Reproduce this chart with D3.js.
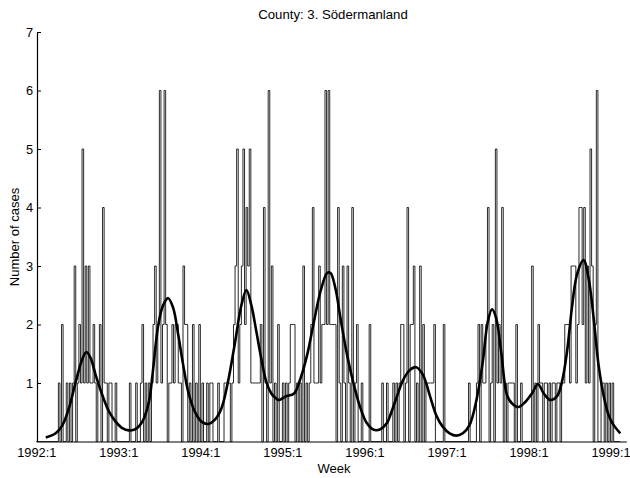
<!DOCTYPE html>
<html>
<head>
<meta charset="utf-8">
<script src="https://cdn.jsdelivr.net/npm/d3@7/dist/d3.min.js"></script>
<style>
  html, body { margin: 0; padding: 0; background: #fff; }
  svg text { font-family: "Liberation Sans", Arial, Helvetica, sans-serif; fill: #000; }
</style>
</head>
<body>
<svg id="chart" width="630" height="478"></svg>
<script>
// Weekly reported cases, Södermanland, from 1992 week 1 onwards
const weeklyCases = [
  0,0,0,0,0,0,
  0,0,0,0,0,0,0,0,1,0, 2,0,0,1,0,1,0,1,3,0, 1,2,1,5,1,3,1,3,1,1,
  2,1,0,1,2,0,4,1,1,0, 1,1,0,0,1,0,0,0,0,0, 0,0,
  0,1,0,0,0,1,0,0,1,2, 0,1,0,1,0,1,2,3,1,2, 6,1,2,6,2,0,1,1,2,1,
  2,2,1,1,0,3,2,2,0,1, 0,2,0,1,0,2,0,1,0,0,1,0,
  1,1,0,0,0,1,0,0,0,1, 1,1,1,0,1,2,3,5,1,2, 3,5,2,4,3,5,1,1,1,1,
  1,1,2,0,4,1,0,6,1,3, 0,1,0,2,0,0,1,0,1,0,1,2,
  2,2,0,1,0,1,0,3,0, 1,0,1,2,4,1,1,1,3,1, 2,2,6,2,6,2,2,2,2,0,
  4,1,0,3,1,0,3,1,0,4, 0,1,2,0,0,1,0,0,0,0,2,0,
  0,0,0,0,0,0,1,0,0,1, 0,0,0,1,0,1,0,1,2,2, 0,1,4,0,2,2,3,0,1,0,
  3,0,2,0,1,1,1,1,1,2, 0,0,0,0,0,2,0,0,0,0,0,0,
  0,0,0,0,0,0,0,0,0, 1,0,0,0,0,1,2,0,2,1, 1,2,4,0,1,2,0,5,1,2,
  1,4,0,1,0,1,1,1,1,0, 2,0,0,1,0,0,0,0,0,0,3,0,
  1,0,2,1,1,0,1,1,0,1, 0,1,1,0,1,1,0,1,1,2, 2,2,1,3,3,3,1,2,4,4,
  2,4,1,3,1,5,3,0,2,6, 0,0,1,1,0,1,0,1,0,1,0,0,0,0,0
];

// Fitted mean (smooth curve), sampled at week positions
const fitWeek = [
  6.0,12.3,16.6,20.7,25.0,29.3,31.8,34.4,37.6,41.9,46.1,50.3,54.5,58.7,62.9,67.2,71.4,73.7,
  77.3,80.4,83.6,86.8,90.0,93.1,96.3,100.5,104.7,108.9,113.1,117.4,121.5,125.7,130.0,133.2,
  136.3,139.5,142.6,145.8,149.0,150.6,153.8,158.0,163.4,167.5,171.7,176.0,180.1,184.4,186.5,
  189.6,192.8,197.0,201.3,205.5,209.6,213.9,218.1,222.4,224.0,228.2,232.5,236.7,240.8,245.1,
  249.4,253.5,257.7,262.0,266.2,270.4,274.6,278.8,283.0,286.2,288.9,291.5,294.7,298.4,301.6,
  305.8,310.1,314.2,318.0,321.7,325.8,330.0,333.2,336.4,339.5,342.7,346.9,350.1,353.3,356.4,
  359.6,362.8,366.0,370.2
];
const fitValue = [
  0.07,0.14,0.28,0.57,1.02,1.42,1.53,1.43,1.14,0.79,0.51,0.34,0.23,0.19,0.21,0.34,0.68,1.15,
  1.99,2.33,2.45,2.28,1.82,1.31,0.85,0.51,0.34,0.30,0.37,0.57,1.02,1.65,2.33,2.59,
  2.33,1.88,1.42,1.02,0.82,0.77,0.71,0.77,0.82,1.08,1.48,2.05,2.56,2.88,2.88,
  2.62,2.11,1.48,0.97,0.57,0.31,0.20,0.21,0.32,0.42,0.74,1.05,1.22,1.27,1.14,
  0.79,0.45,0.25,0.14,0.10,0.14,0.28,0.68,1.36,2.05,2.26,2.11,1.53,0.79,0.65,
  0.59,0.68,0.82,0.98,0.82,0.71,0.77,1.02,1.53,2.28,2.85,3.10,2.79,2.11,1.31,
  0.79,0.45,0.28,0.14
];

// Year start weeks and their labels
const yearWeeks = [0, 52, 104, 156, 208, 260, 312, 364];
const yearLabels = ["1992:1","1993:1","1994:1","1995:1","1996:1","1997:1","1998:1","1999:1"];
const yTicks = [1, 2, 3, 4, 5, 6, 7];

const titleText = "County: 3. Södermanland";
const xTitle = "Week";
const yTitle = "Number of cases";

const svg = d3.select("#chart");

const x = d3.scaleLinear().domain([0, 374]).range([36.3, 626.3]);
const y = d3.scaleLinear().domain([0, 7]).range([441.5, 32]);

// Weekly counts as a staircase
const stepLine = d3.line()
  .x((d, i) => x(i))
  .y(d => y(d))
  .curve(d3.curveStepAfter);

svg.append("path")
  .datum(weeklyCases)
  .attr("d", stepLine)
  .attr("fill", "none")
  .attr("stroke", "#111")
  .attr("stroke-width", 0.9);

// Smooth fitted mean
const fitData = fitWeek.map((w, i) => ({ w, v: fitValue[i] }));
const fitLine = d3.line()
  .x(d => x(d.w))
  .y(d => y(d.v))
  .curve(d3.curveCatmullRom.alpha(0.5));

svg.append("path")
  .datum(fitData)
  .attr("d", fitLine)
  .attr("fill", "none")
  .attr("stroke", "#000")
  .attr("stroke-width", 2.6)
  .attr("stroke-linejoin", "round");

// Axes
const xAxis = d3.axisBottom(x)
  .tickValues(yearWeeks)
  .tickFormat((d, i) => yearLabels[i])
  .tickSizeInner(0)
  .tickSizeOuter(0)
  .tickPadding(6);

const gx = svg.append("g")
  .attr("transform", `translate(0,${y(0)})`)
  .call(xAxis);
gx.selectAll("text").attr("font-size", 12.8);
gx.select(".domain").attr("stroke", "#000").attr("stroke-width", 1.2);

const yAxis = d3.axisLeft(y)
  .tickValues(yTicks)
  .tickFormat(d3.format("d"))
  .tickSizeInner(-4)
  .tickSizeOuter(0)
  .tickPadding(4);

const gy = svg.append("g")
  .attr("transform", `translate(37,0)`)
  .call(yAxis);
gy.selectAll("text").attr("font-size", 12.8);
gy.select(".domain").attr("stroke", "#000").attr("stroke-width", 1.2);
gy.selectAll(".tick line").attr("stroke", "#000");

// Titles
svg.append("text")
  .attr("x", 333)
  .attr("y", 19)
  .attr("text-anchor", "middle")
  .attr("font-size", 13.2)
  .text(titleText);

svg.append("text")
  .attr("x", 334)
  .attr("y", 473)
  .attr("text-anchor", "middle")
  .attr("font-size", 13)
  .text(xTitle);

svg.append("text")
  .attr("transform", `translate(19,237) rotate(-90)`)
  .attr("text-anchor", "middle")
  .attr("font-size", 13)
  .text(yTitle);
</script>
</body>
</html>
